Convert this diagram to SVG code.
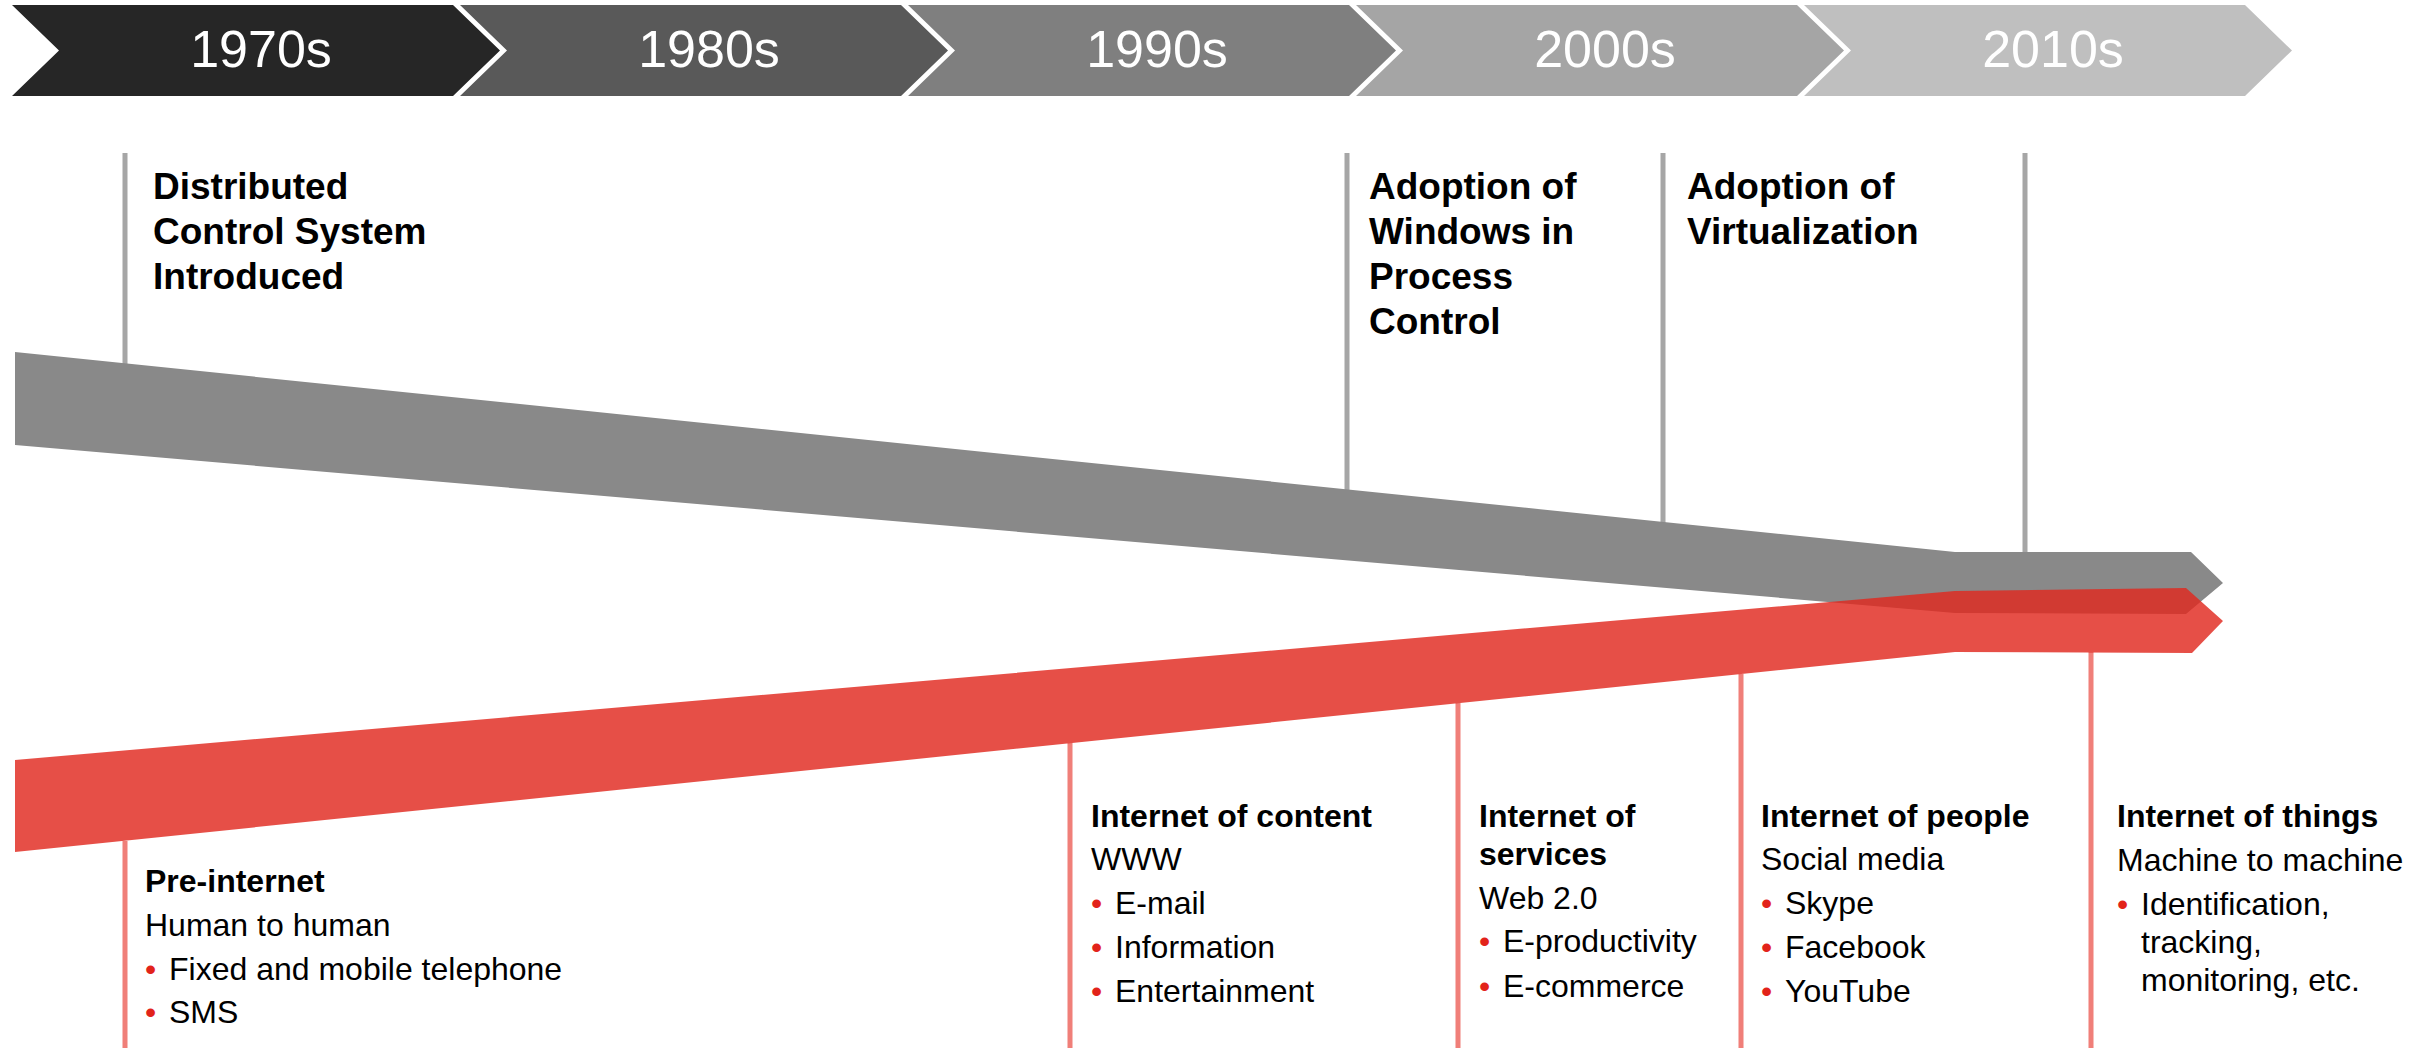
<svg xmlns="http://www.w3.org/2000/svg" width="2425" height="1048" viewBox="0 0 2425 1048">
<style>
text{font-family:"Liberation Sans",Arial,sans-serif;}
.dec{font-size:52px;fill:#ffffff;text-anchor:middle;}
.ev{font-size:37px;font-weight:bold;fill:#000;}
.tt{font-size:32px;font-weight:bold;fill:#000;}
.bd{font-size:32px;fill:#000;}
.bu{fill:#e2231a;}
.gl{stroke:#a6a6a6;stroke-width:5;fill:none;}
.rl{stroke:#f07f79;stroke-width:5;fill:none;}
</style>
<rect width="2425" height="1048" fill="#ffffff"/>
<g id="decades">
  <g id="d1970"><polygon points="12,5 453,5 500,50.5 453,96 12,96 59,50.5" fill="#262626"/><text class="dec" x="261" y="67">1970s</text></g>
  <g id="d1980"><polygon points="460,5 901,5 948,50.5 901,96 460,96 507,50.5" fill="#595959"/><text class="dec" x="709" y="67">1980s</text></g>
  <g id="d1990"><polygon points="908,5 1349,5 1396,50.5 1349,96 908,96 955,50.5" fill="#7f7f7f"/><text class="dec" x="1157" y="67">1990s</text></g>
  <g id="d2000"><polygon points="1356,5 1797,5 1844,50.5 1797,96 1356,96 1403,50.5" fill="#a5a5a5"/><text class="dec" x="1605" y="67">2000s</text></g>
  <g id="d2010"><polygon points="1804,5 2245,5 2292,50.5 2245,96 1804,96 1851,50.5" fill="#bfbfbf"/><text class="dec" x="2053" y="67">2010s</text></g>
</g>
<g id="connectors">
  <line class="gl" x1="125" y1="153" x2="125" y2="366"/>
  <line class="gl" x1="1347" y1="153" x2="1347" y2="492"/>
  <line class="gl" x1="1663" y1="153" x2="1663" y2="525"/>
  <line class="gl" x1="2025" y1="153" x2="2025" y2="555"/>
  <line class="rl" x1="125" y1="841" x2="125" y2="1048"/>
  <line class="rl" x1="1070" y1="743" x2="1070" y2="1048"/>
  <line class="rl" x1="1458" y1="703" x2="1458" y2="1048"/>
  <line class="rl" x1="1741" y1="674" x2="1741" y2="1048"/>
  <line class="rl" x1="2091" y1="652" x2="2091" y2="1048"/>
</g>
<g id="bands">
  <polygon id="ot-band" points="15,352 1955,552 2191,552 2223,583 2186,614 1955,613 15,445" fill="#898989"/>
  <polygon id="it-band" points="15,760 1955,591 2186,588 2223,621 2192,653 1955,652 15,852" fill="#e0281e" fill-opacity="0.82"/>
</g>
<g id="ev-dcs"><text class="ev" x="153" y="199">Distributed</text><text class="ev" x="153" y="244">Control System</text><text class="ev" x="153" y="289">Introduced</text></g>
<g id="ev-windows"><text class="ev" x="1369" y="199">Adoption of</text><text class="ev" x="1369" y="244">Windows in</text><text class="ev" x="1369" y="289">Process</text><text class="ev" x="1369" y="334">Control</text></g>
<g id="ev-virt"><text class="ev" x="1687" y="199">Adoption of</text><text class="ev" x="1687" y="244">Virtualization</text></g>
<g id="pre-internet">
  <text class="tt" x="145" y="892">Pre-internet</text>
  <text class="bd" x="145" y="936">Human to human</text>
  <text class="bd" x="145" y="980"><tspan class="bu">•</tspan><tspan x="169">Fixed and mobile telephone</tspan></text>
  <text class="bd" x="145" y="1023"><tspan class="bu">•</tspan><tspan x="169">SMS</tspan></text>
</g>
<g id="internet-content">
  <text class="tt" x="1091" y="827">Internet of content</text>
  <text class="bd" x="1091" y="870">WWW</text>
  <text class="bd" x="1091" y="914"><tspan class="bu">•</tspan><tspan x="1115">E-mail</tspan></text>
  <text class="bd" x="1091" y="958"><tspan class="bu">•</tspan><tspan x="1115">Information</tspan></text>
  <text class="bd" x="1091" y="1002"><tspan class="bu">•</tspan><tspan x="1115">Entertainment</tspan></text>
</g>
<g id="internet-services">
  <text class="tt" x="1479" y="827">Internet of</text>
  <text class="tt" x="1479" y="865">services</text>
  <text class="bd" x="1479" y="909">Web 2.0</text>
  <text class="bd" x="1479" y="952"><tspan class="bu">•</tspan><tspan x="1503">E-productivity</tspan></text>
  <text class="bd" x="1479" y="997"><tspan class="bu">•</tspan><tspan x="1503">E-commerce</tspan></text>
</g>
<g id="internet-people">
  <text class="tt" x="1761" y="827">Internet of people</text>
  <text class="bd" x="1761" y="870">Social media</text>
  <text class="bd" x="1761" y="914"><tspan class="bu">•</tspan><tspan x="1785">Skype</tspan></text>
  <text class="bd" x="1761" y="958"><tspan class="bu">•</tspan><tspan x="1785">Facebook</tspan></text>
  <text class="bd" x="1761" y="1002"><tspan class="bu">•</tspan><tspan x="1785">YouTube</tspan></text>
</g>
<g id="internet-things">
  <text class="tt" x="2117" y="827">Internet of things</text>
  <text class="bd" x="2117" y="871">Machine to machine</text>
  <text class="bd" x="2117" y="915"><tspan class="bu">•</tspan><tspan x="2141">Identification,</tspan></text>
  <text class="bd" x="2141" y="953">tracking,</text>
  <text class="bd" x="2141" y="991">monitoring, etc.</text>
</g>
</svg>
